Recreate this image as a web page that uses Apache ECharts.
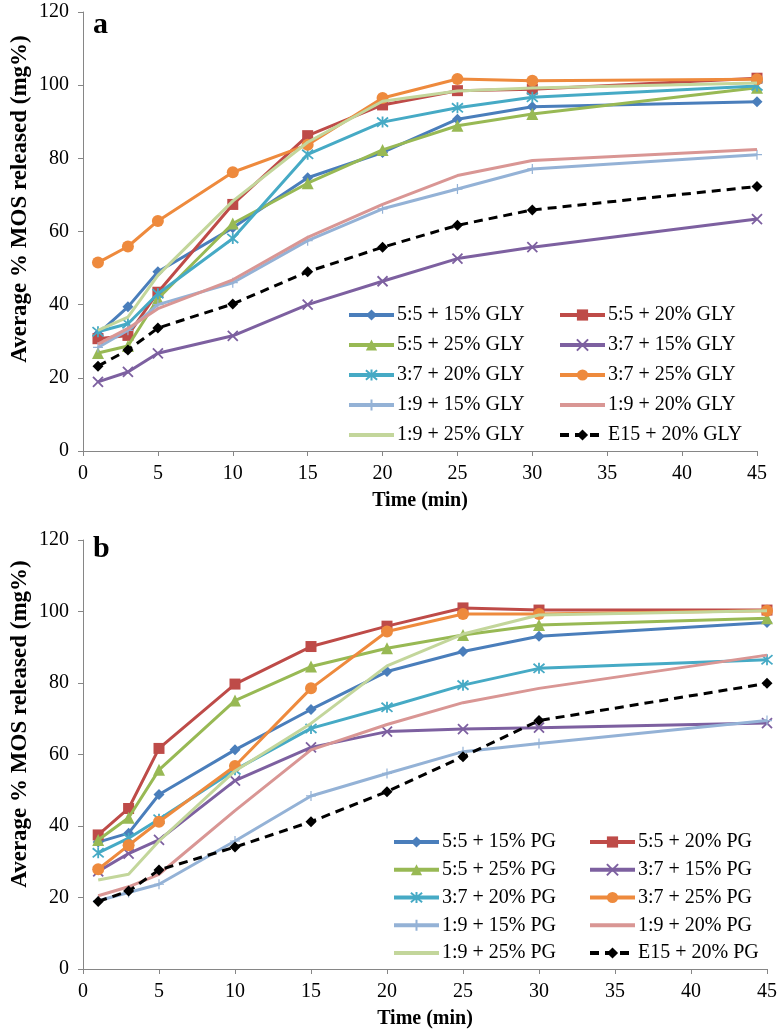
<!DOCTYPE html>
<html>
<head>
<meta charset="utf-8">
<script src="https://cdn.jsdelivr.net/npm/echarts@6/dist/echarts.min.js"></script>
<style>html,body{margin:0;padding:0;background:#fff;}#c{width:780px;height:1030px;}</style>
</head>
<body>
<div id="c"></div>
<script>
// ---- data ----
const times = [1, 3, 5, 10, 15, 20, 25, 30, 45];
const xTicks = [0, 5, 10, 15, 20, 25, 30, 35, 40, 45];
const yTicks = [0, 20, 40, 60, 80, 100, 120];

const namesA = ['5:5 + 15% GLY','5:5 + 20% GLY','5:5 + 25% GLY','3:7 + 15% GLY','3:7 + 20% GLY','3:7 + 25% GLY','1:9 + 15% GLY','1:9 + 20% GLY','1:9 + 25% GLY','E15 + 20% GLY'];
const namesB = ['5:5 + 15% PG','5:5 + 20% PG','5:5 + 25% PG','3:7 + 15% PG','3:7 + 20% PG','3:7 + 25% PG','1:9 + 15% PG','1:9 + 20% PG','1:9 + 25% PG','E15 + 20% PG'];

// panel a (GLY)
const a_55_15 = [32.0, 39.4, 49.0, 61.0, 74.7, 81.6, 90.7, 94.1, 95.5];
const a_55_20 = [30.7, 31.6, 43.4, 67.4, 86.2, 94.6, 98.5, 98.9, 101.9];
const a_55_25 = [26.8, 28.7, 41.6, 62.2, 73.2, 82.3, 88.9, 92.1, 99.3];
const a_37_15 = [18.9, 21.6, 26.7, 31.5, 40.0, 46.4, 52.6, 55.7, 63.4];
const a_37_20 = [32.6, 34.8, 43.0, 58.1, 81.1, 89.9, 93.8, 96.7, 99.8];
const a_37_25 = [51.5, 55.9, 62.9, 76.2, 83.7, 96.5, 101.7, 101.2, 101.6];
const a_19_15 = [28.3, 33.0, 40.0, 46.0, 57.5, 66.2, 71.6, 77.1, 81.0];
const a_19_20 = [29.2, 33.5, 38.9, 46.8, 58.4, 67.4, 75.3, 79.4, 82.4];
const a_19_25 = [33.0, 36.6, 48.0, 68.3, 84.4, 95.6, 98.4, 99.2, 100.6];
const a_e15_20 = [23.2, 27.6, 33.6, 40.2, 49.0, 55.7, 61.7, 65.9, 72.3];

// panel b (PG)
const b_55_15 = [35.5, 38.0, 48.8, 61.3, 72.6, 83.2, 88.8, 93.1, 96.9];
const b_55_20 = [37.5, 44.9, 61.7, 79.7, 90.2, 95.9, 101.0, 100.4, 100.4];
const b_55_25 = [36.1, 42.3, 55.7, 75.1, 84.6, 89.7, 93.4, 96.2, 98.1];
const b_37_15 = [27.3, 32.3, 36.1, 52.7, 62.0, 66.4, 67.1, 67.5, 68.8];
const b_37_20 = [32.5, 36.6, 41.9, 55.7, 67.3, 73.2, 79.4, 84.1, 86.5];
const b_37_25 = [27.9, 34.6, 41.2, 56.8, 78.5, 94.4, 99.3, 99.3, 100.2];
const b_19_15 = [19.1, 21.4, 23.7, 35.8, 48.4, 54.7, 60.8, 63.1, 69.5];
const b_19_20 = [20.5, 23.0, 26.5, 44.3, 61.3, 68.4, 74.5, 78.5, 87.8];
const b_19_25 = [24.9, 26.5, 35.8, 55.4, 68.7, 84.8, 93.7, 99.0, 100.2];
const b_e15_20 = [18.9, 21.8, 27.7, 34.1, 41.2, 49.6, 59.4, 69.5, 79.9];

const dataA = [a_55_15, a_55_20, a_55_25, a_37_15, a_37_20, a_37_25, a_19_15, a_19_20, a_19_25, a_e15_20];
const dataB = [b_55_15, b_55_20, b_55_25, b_37_15, b_37_20, b_37_25, b_19_15, b_19_20, b_19_25, b_e15_20];

// ---- styles ----
const FONT = "'Liberation Serif', 'Times New Roman', serif";
const colors = ['#4A7EBB', '#BE4B48', '#98B954', '#7D60A0', '#46AAC5', '#EE8A3D', '#94B2D6', '#D99694', '#C3D69B', '#000000'];
const X_PATH = 'path://M0,0L10,10M10,0L0,10';
const AST_PATH = 'path://M0,0L10,10M10,0L0,10M5,-1L5,11';
const PLUS_PATH = 'path://M5,0L5,10M0,5L10,5';
const marks = [
  {symbol: 'diamond', size: 11},
  {symbol: 'rect', size: 11},
  {symbol: 'triangle', size: 12},
  {symbol: X_PATH, size: 10, stroke: true},
  {symbol: AST_PATH, size: 11, stroke: true},
  {symbol: 'circle', size: 12},
  {symbol: PLUS_PATH, size: 10, stroke: true, thin: true},
  {symbol: 'circle', size: 0, hidden: true},
  {symbol: 'circle', size: 0, hidden: true},
  {symbol: 'diamond', size: 11}
];

function makeSeries(names, data, idx) {
  return names.map((n, i) => {
    const m = marks[i];
    const s = {
      name: n,
      type: 'line',
      xAxisIndex: idx,
      yAxisIndex: idx,
      data: times.map((t, j) => [t, data[i][j]]),
      symbol: m.symbol,
      symbolSize: m.size,
      showSymbol: !m.hidden,
      lineStyle: {color: colors[i], width: 3, type: i === 9 ? [9, 6] : 'solid'},
      itemStyle: {color: colors[i]},
      emphasis: {disabled: true},
      animation: false,
      z: 2 + i
    };
    if (m.stroke) {
      s.itemStyle = {color: colors[i], borderColor: colors[i], borderWidth: m.thin ? 1.2 : 1.8};
    }
    return s;
  });
}

function axisX(gridIndex) {
  return {
    type: 'value', gridIndex: gridIndex, min: 0, max: 45, interval: 5,
    axisLine: {show: true, lineStyle: {color: '#868686', width: 1}},
    axisTick: {show: true, length: 5, lineStyle: {color: '#868686'}},
    axisLabel: {color: '#000', fontFamily: FONT, fontSize: 20, margin: 13,
      formatter: v => xTicks.includes(v) ? String(v) : ''},
    splitLine: {show: false},
    name: 'Time (min)', nameLocation: 'middle', nameGap: 40,
    nameTextStyle: {color: '#000', fontFamily: FONT, fontSize: 20, fontWeight: 'bold'}
  };
}
function axisY(gridIndex) {
  return {
    type: 'value', gridIndex: gridIndex, min: 0, max: 120, interval: 20,
    axisLine: {show: true, lineStyle: {color: '#868686', width: 1}},
    axisTick: {show: true, length: 5, lineStyle: {color: '#868686'}},
    axisLabel: {color: '#000', fontFamily: FONT, fontSize: 20, margin: 14,
      formatter: v => yTicks.includes(v) ? String(v) : ''},
    splitLine: {show: false}
  };
}
function legend(names, hiddenNames, left, top, gap) {
  return {
    data: names.map(n => hiddenNames.includes(n) ? {name: n, itemStyle: {opacity: 0}} : n),
    orient: 'vertical', left: left, top: top, padding: 0,
    itemWidth: 45, itemHeight: 14, itemGap: gap,
    selectedMode: false,
    lineStyle: {width: 4},
    textStyle: {color: '#000', fontFamily: FONT, fontSize: 20, lineHeight: 20, padding: [0, 0, 0, -2]}
  };
}
const hiddenA = namesA.filter((_, i) => marks[i].hidden);
const hiddenB = namesB.filter((_, i) => marks[i].hidden);

const option = {
  backgroundColor: '#fff',
  animation: false,
  grid: [
    {left: 83, top: 12, width: 674, height: 439},
    {left: 83, top: 540, width: 686, height: 429}
  ],
  xAxis: [axisX(0), axisX(1)],
  yAxis: [axisY(0), axisY(1)],
  legend: [
    legend(namesA.filter((_, i) => i % 2 === 0), hiddenA, 347, 305, 10),
    legend(namesA.filter((_, i) => i % 2 === 1), hiddenA, 558, 305, 10),
    legend(namesB.filter((_, i) => i % 2 === 0), hiddenB, 392, 832, 7.75),
    legend(namesB.filter((_, i) => i % 2 === 1), hiddenB, 588, 832, 7.75)
  ],
  graphic: [
    {type: 'text', left: 93, top: 10, style: {text: 'a', font: 'bold 30px ' + FONT, fill: '#000'}},
    {type: 'text', left: 93, top: 534, style: {text: 'b', font: 'bold 30px ' + FONT, fill: '#000'}},
    {type: 'text', x: 20, y: 199, rotation: Math.PI / 2,
      style: {text: 'Average % MOS released (mg%)', font: 'bold 23px ' + FONT, fill: '#000', align: 'center', verticalAlign: 'middle'}},
    {type: 'text', x: 20, y: 724, rotation: Math.PI / 2,
      style: {text: 'Average % MOS released (mg%)', font: 'bold 23px ' + FONT, fill: '#000', align: 'center', verticalAlign: 'middle'}}
  ],
  series: makeSeries(namesA, dataA, 0).concat(makeSeries(namesB, dataB, 1))
};

const chart = echarts.init(document.getElementById('c'), null, {renderer: 'canvas'});
chart.setOption(option);
</script>
</body>
</html>
